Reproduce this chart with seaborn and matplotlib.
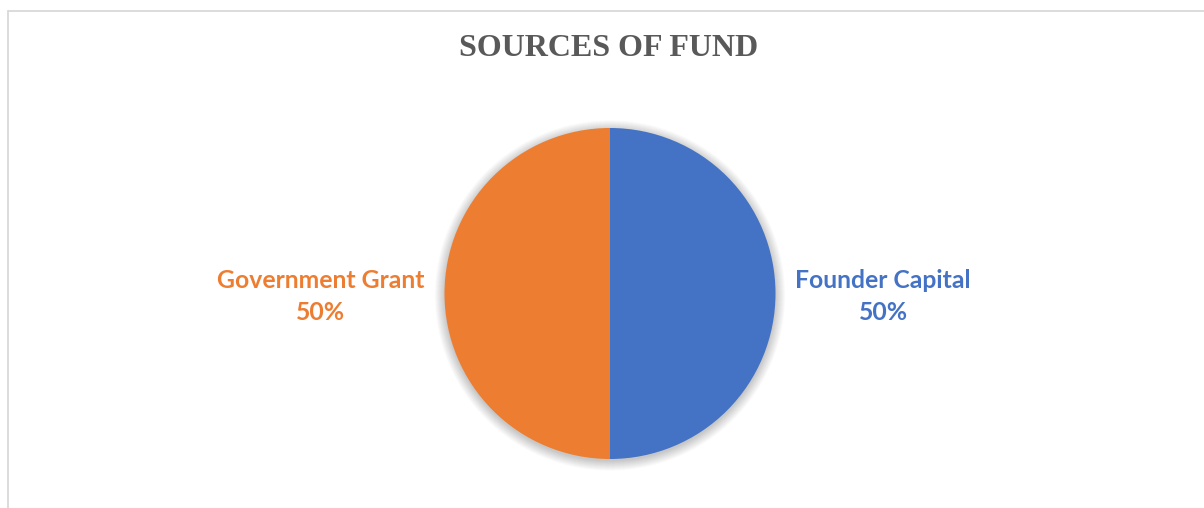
import matplotlib
matplotlib.use("Agg")
import matplotlib.pyplot as plt
from matplotlib.lines import Line2D
from matplotlib.patches import Circle
import seaborn as sns

# Funding sources and their shares
categories = ["Founder Capital", "Government Grant"]
values = [50, 50]
colors = ["#4472C4", "#ED7D31"]
title = "SOURCES OF FUND"

sns.set_theme(style="white")
plt.rcParams["font.family"] = ["Lato", "DejaVu Sans"]

W, H = 1204, 508
fig = plt.figure(figsize=(W / 100, H / 100), dpi=100)
fig.patch.set_facecolor("white")

# Chart frame (top and left edges visible)
frame_kw = dict(color="#d9d9d9", linewidth=1.3, transform=fig.transFigure)
fig.add_artist(Line2D([7.5 / W, 1.0], [1 - 10.5 / H, 1 - 10.5 / H], **frame_kw))
fig.add_artist(Line2D([7.5 / W, 7.5 / W], [0.0, 1 - 10.5 / H], **frame_kw))

# Square axes holding a unit-radius pie
cx, cy, r = 610, 293.5, 165.5
ax = fig.add_axes([(cx - r) / W, (H - cy - r) / H, 2 * r / W, 2 * r / H])

# Soft shadow around the pie
for i in range(14):
    ax.add_patch(Circle((0, -0.012), 1.0 + 0.0045 * i, facecolor="black",
                        edgecolor="none", alpha=0.014, clip_on=False, zorder=0))

total = sum(values)
labels = [f"{c}\n{v / total:.0%}" for c, v in zip(categories, values)]
wedges, texts = ax.pie(values, colors=colors, startangle=90, counterclock=False,
                       labels=labels, labeldistance=1.12, radius=1.0,
                       wedgeprops=dict(linewidth=0))
for w in wedges:
    w.set_zorder(2)
for t, c in zip(texts, colors):
    t.set_multialignment("center")
    t.set_color(c)
    t.set_fontsize(17.8)
    t.set_fontweight("bold")
    t.set_verticalalignment("center")
    t.set_linespacing(1.5)
    t.set_y(t.get_position()[1] - 0.018)

ax.set_xlim(-1, 1)
ax.set_ylim(-1, 1)
ax.set_aspect("equal")
ax.axis("off")

fig.text(609 / W, 1 - 49 / H, title, ha="center", va="center",
         fontsize=23, fontweight="bold", color="#595959",
         family=["Liberation Serif", "DejaVu Serif"])

fig.savefig("out.png", dpi=100, facecolor="white")
